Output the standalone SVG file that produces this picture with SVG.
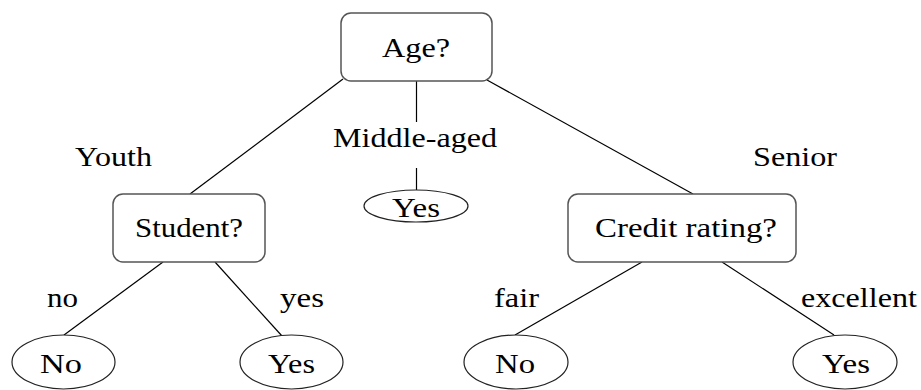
<svg xmlns="http://www.w3.org/2000/svg" width="921" height="390" viewBox="0 0 921 390">
<style>
text{font-family:'Liberation Serif','Times New Roman',Times,serif;font-size:28px;fill:#000}
.box{fill:#fff;stroke:#555;stroke-width:1.5}
.leaf{fill:#fff;stroke:#222;stroke-width:1.2}
.edge{stroke:#000;stroke-width:1.2;fill:none}
</style>
<rect width="921" height="390" fill="#fff"/>
<g id="connectors">
<line class="edge" x1="343" y1="79" x2="190" y2="194"/>
<line class="edge" x1="487" y1="80" x2="693" y2="194"/>
<line class="edge" x1="416.5" y1="81" x2="416.5" y2="122"/>
<line class="edge" x1="416.5" y1="168" x2="416.5" y2="190"/>
<line class="edge" x1="163" y1="262" x2="64" y2="335"/>
<line class="edge" x1="215" y1="262" x2="282" y2="336"/>
<line class="edge" x1="642" y1="262" x2="515" y2="335"/>
<line class="edge" x1="722" y1="262" x2="834" y2="335"/>
<text x="75" y="166" textLength="77" lengthAdjust="spacingAndGlyphs">Youth</text>
<text x="333" y="147" textLength="164" lengthAdjust="spacingAndGlyphs">Middle-aged</text>
<text x="753" y="166" textLength="84" lengthAdjust="spacingAndGlyphs">Senior</text>
<text x="47" y="307" textLength="31" lengthAdjust="spacingAndGlyphs">no</text>
<text x="280" y="307" textLength="44" lengthAdjust="spacingAndGlyphs">yes</text>
<text x="494" y="307" textLength="45" lengthAdjust="spacingAndGlyphs">fair</text>
<text x="801" y="307" textLength="116" lengthAdjust="spacingAndGlyphs">excellent</text>
</g>
<g id="age">
<rect class="box" x="341" y="13" width="151" height="68" rx="10"/>
<text x="382" y="57" textLength="68" lengthAdjust="spacingAndGlyphs">Age?</text>
</g>
<g id="student">
<rect class="box" x="113" y="194" width="152" height="68" rx="10"/>
<text x="135" y="237" textLength="108" lengthAdjust="spacingAndGlyphs">Student?</text>
</g>
<g id="credit">
<rect class="box" x="568" y="194" width="228" height="68" rx="10"/>
<text x="595" y="237" textLength="182" lengthAdjust="spacingAndGlyphs">Credit rating?</text>
</g>
<g id="mid-yes">
<ellipse class="leaf" cx="416" cy="206" rx="52" ry="16"/>
<text x="392" y="217" textLength="48" lengthAdjust="spacingAndGlyphs">Yes</text>
</g>
<g id="youth-no">
<ellipse class="leaf" cx="63.5" cy="362" rx="51.5" ry="27"/>
<text x="40" y="373" textLength="42" lengthAdjust="spacingAndGlyphs">No</text>
</g>
<g id="youth-yes">
<ellipse class="leaf" cx="291.5" cy="362" rx="51.5" ry="27"/>
<text x="268" y="373" textLength="47" lengthAdjust="spacingAndGlyphs">Yes</text>
</g>
<g id="senior-no">
<ellipse class="leaf" cx="516" cy="362" rx="52" ry="27"/>
<text x="495" y="373" textLength="40" lengthAdjust="spacingAndGlyphs">No</text>
</g>
<g id="senior-yes">
<ellipse class="leaf" cx="845" cy="362" rx="52" ry="27"/>
<text x="822" y="373" textLength="48" lengthAdjust="spacingAndGlyphs">Yes</text>
</g>
</svg>
